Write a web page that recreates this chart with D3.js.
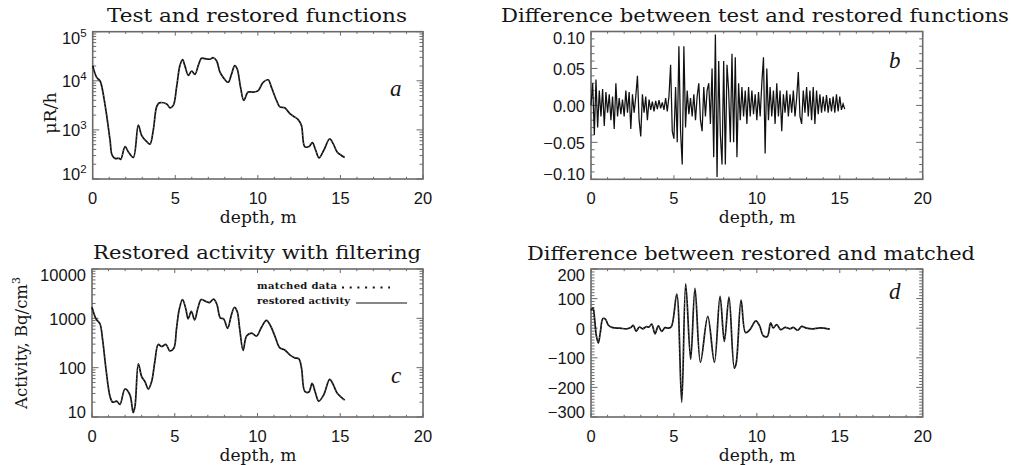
<!DOCTYPE html>
<html>
<head>
<meta charset="utf-8">
<script src="https://cdn.jsdelivr.net/npm/d3@7"></script>
<style>
  body { margin: 0; background: #fff; }
  svg text { fill: #151515; }
</style>
</head>
<body>
<svg id="chart" width="1011" height="465"></svg>
<script>
// depth axis, shared by all four panels
var depthTicks = [0, 5, 10, 15, 20];

// panel a: test and restored functions, uR/h
var depthA = [0,0.24,0.44,0.54,0.8,1.05,1.17,1.35,1.6,1.7,1.96,2.16,2.46,2.76,2.96,3.27,3.47,3.67,3.87,4.03,
  4.48,4.68,4.88,5.08,5.28,5.44,5.58,5.79,5.99,6.19,6.39,6.59,6.79,7.1,7.3,7.5,7.7,7.9,8.2,8.4,
  8.6,8.75,8.95,9.15,9.41,9.72,10.02,10.32,10.62,10.83,11.13,11.33,11.63,11.94,12.24,12.44,12.64,12.84,13.1,13.3,
  13.5,13.7,14.0,14.35,14.56,14.8,15.06,15.26];
var doseA = [20400,11750,10000,7940,2510,617,309,263,263,251,457,355,275,1259,776,575,513,1000,2951,3548,
  3388,2818,3162,7413,20400,26900,20400,12900,15850,13490,20400,28840,28180,27540,29510,25700,15140,11750,9330,13490,
  20400,17380,7413,3981,5888,5888,6310,9330,10470,7244,3981,2951,2818,2138,1820,1622,1230,457,457,550,
  389,269,389,661,525,355,302,275];
var ticksA = [100, 1000, 10000, 100000];
var expA = ["2", "3", "4", "5"];

// panel b: difference between test and restored, sampled every 0.1 m
var stepB = 0.1;
var diffB = [
  0.00, 0.03, -0.04, 0.035, -0.03, 0.02, -0.015, 0.022, -0.028, 0.018,
  -0.01, 0.015, -0.02, 0.012, -0.032, 0.03, -0.015, 0.01, -0.012, 0.008,
  -0.015, 0.02, -0.01, 0.018, -0.032, 0.015, -0.01, 0.012, 0.04, -0.02,
  -0.042, 0.015, -0.01, 0.012, -0.02, 0.008, -0.006, 0.005, -0.008, 0.006,
  -0.005, 0.007, -0.004, 0.004, -0.006, 0.01, -0.008, 0.012, 0.055, -0.035,
  -0.045, 0.025, -0.05, 0.08, -0.035, -0.08, 0.08, -0.03, 0.02, -0.012,
  0.01, -0.015, 0.015, -0.02, 0.012, 0.03, -0.02, -0.035, 0.025, -0.015,
  0.02, 0.03, -0.025, 0.05, -0.07, 0.096, -0.097, 0.06, -0.04, -0.08,
  0.06, -0.08, 0.055, 0.02, -0.05, 0.07, -0.05, 0.065, -0.07, 0.03,
  -0.02, 0.025, -0.015, 0.02, -0.025, 0.025, -0.015, 0.02, -0.012, 0.015,
  -0.02, 0.018, -0.015, 0.03, 0.065, -0.065, 0.05, -0.02, 0.025, -0.015,
  0.02, -0.025, 0.03, -0.015, 0.02, -0.035, 0.015, -0.01, 0.02, -0.015,
  0.015, -0.01, 0.02, -0.015, 0.01, 0.045, -0.015, -0.025, 0.02, -0.01,
  0.025, -0.015, 0.02, -0.02, 0.025, -0.025, 0.02, -0.012, 0.015, -0.01,
  0.012, -0.008, 0.014, -0.01, 0.01, -0.008, 0.012, -0.01, 0.015, -0.008,
  0.012, -0.006, 0.002, -0.005];
var ticksB = [-0.10, -0.05, 0.00, 0.05, 0.10];

// panel c: restored activity, Bq/cm3
var depthC = [0,0.24,0.48,0.64,0.85,1.09,1.25,1.49,1.69,1.99,2.29,2.49,2.6,2.8,3.0,3.2,3.4,3.6,3.8,4.0,
  4.2,4.47,4.7,4.95,5.1,5.27,5.47,5.67,5.81,6.0,6.2,6.4,6.6,6.9,7.1,7.35,7.55,7.75,7.95,8.2,
  8.4,8.6,8.77,8.93,9.13,9.34,9.64,9.94,10.24,10.54,10.8,11.05,11.35,11.65,11.95,12.25,12.5,12.66,12.86,13.1,
  13.3,13.5,13.7,14.0,14.36,14.57,14.8,15.07,15.27];
var activityC = [1700,980,776,372,91,26,20,21,18,37,28,12.3,16.6,120,66,52,37,52,135,295,
  269,295,219,251,589,1514,2399,1549,977,1380,933,1622,2399,2188,2089,2455,1905,1023,977,631,
  1096,1660,1380,589,224,437,501,437,661,912,692,437,251,229,182,158,151,98,33,32,
  48,31,21,28,58,46,31,25,22];
var ticksC = [10, 100, 1000, 10000];

// panel d: difference between restored and matched
var depthD = [0,0.12,0.22,0.32,0.44,0.56,0.72,0.88,1.05,1.3,1.75,2.15,2.4,2.55,2.72,2.92,3.12,3.32,3.5,3.66,
  3.86,4.06,4.26,4.46,4.66,4.85,5.17,5.47,5.71,6.01,6.27,6.6,7.04,7.44,7.78,8.04,8.32,8.64,8.75,9.05,
  9.32,9.58,9.94,10.18,10.38,10.63,10.83,10.99,11.2,11.44,11.7,12.0,12.2,12.46,12.7,13.0,13.4,13.8,14.4];
var diffD = [60,68,30,-25,-50,-15,33,30,10,2,0,-2,2,10,-10,4,-2,5,4,14,
  -19,8,-11,2,0,6,115,-250,150,-105,135,-115,40,-115,108,-45,105,-135,-120,95,
  -15,-5,25,6,-25,-28,18,1,12,-5,3,-2,3,-7,6,0,-2,1,-3];
var ticksD = [-300, -200, -100, 0, 100, 200];

var svg = d3.select("#chart");
var frameColor = "#6a6a6a";
var serif = "'DejaVu Serif', serif";
var sans = "'Liberation Sans', Arial, sans-serif";

function zip(xs, ys) {
	return xs.map(function(d, i){ return [d, ys[i]]; });
}

// IDL style box with inward ticks on all four sides
function drawPanel(p) {
	var g = svg.append("g");
	var x = d3.scaleLinear().domain([0, 20]).range([p.left, p.right]);
	var y = p.y;

	var minorX = d3.range(0, 21, 1);
	minorX.forEach(function(v){
		var len = depthTicks.indexOf(v) >= 0 ? 4 : 2.2;
		g.append("line").attr("x1", x(v)).attr("x2", x(v))
			.attr("y1", p.bottom).attr("y2", p.bottom - len);
		g.append("line").attr("x1", x(v)).attr("x2", x(v))
			.attr("y1", p.top).attr("y2", p.top + len);
	});
	p.minorY.forEach(function(v){
		var len = p.majorY.indexOf(v) >= 0 ? 6.5 : 3.5;
		g.append("line").attr("x1", p.left).attr("x2", p.left + len)
			.attr("y1", y(v)).attr("y2", y(v));
		g.append("line").attr("x1", p.right).attr("x2", p.right - len)
			.attr("y1", y(v)).attr("y2", y(v));
	});
	g.selectAll("line").attr("stroke", frameColor).attr("stroke-width", 1);

	g.append("rect")
		.attr("x", p.left).attr("y", p.top)
		.attr("width", p.right - p.left).attr("height", p.bottom - p.top)
		.attr("fill", "none").attr("stroke", frameColor).attr("stroke-width", 1.6);

	// x labels
	g.selectAll(".xl").data(depthTicks).enter().append("text")
		.attr("x", function(d){ return x(d); })
		.attr("y", p.bottom + 24.5)
		.attr("text-anchor", "middle")
		.attr("font-family", sans).attr("font-size", 16.5)
		.text(function(d){ return d; });

	// y labels
	p.majorY.forEach(function(v, i){
		var yy = Math.max(p.top + 12, Math.min(p.bottom + 1, y(v) + 6.5));
		var t = g.append("text")
			.attr("x", p.left - 6).attr("y", yy)
			.attr("text-anchor", "end")
			.attr("font-family", sans).attr("font-size", 16.5);
		if (p.exp) {
			t.append("tspan").text("10");
			t.append("tspan").attr("font-size", 11.5).attr("dy", -7).text(p.exp[i]);
		} else {
			t.text(p.fmt(v).replace("-", "\u2212"));
		}
	});

	// titles
	svg.append("text")
		.attr("x", p.titleX).attr("y", p.titleY)
		.attr("font-family", serif).attr("font-size", 18)
		.attr("textLength", p.titleW).attr("lengthAdjust", "spacingAndGlyphs")
		.text(p.title);
	svg.append("text")
		.attr("x", (p.left + p.right) / 2 - 38).attr("y", p.bottom + 44)
		.attr("font-family", serif).attr("font-size", 16)
		.attr("textLength", 77).attr("lengthAdjust", "spacingAndGlyphs")
		.text("depth, m");
	svg.append("text")
		.attr("x", p.letterX).attr("y", p.letterY)
		.attr("font-family", "'Liberation Serif', serif").attr("font-style", "italic")
		.attr("font-size", 23)
		.text(p.letter);

	return x;
}

function logMinor(lo, hi) {
	return d3.scaleLog().domain([lo, hi]).ticks();
}

// ---- panel a ----
var yA = d3.scaleLog().domain([100, 100000]).range([179, 31.7]);
var xA = drawPanel({
	left: 92.7, right: 423, top: 31.7, bottom: 179, y: yA,
	majorY: ticksA, minorY: logMinor(100, 100000), exp: expA,
	title: "Test and restored functions", titleX: 107, titleY: 22, titleW: 300,
	letter: "a", letterX: 390, letterY: 96
});
var lineA = d3.line().curve(d3.curveCatmullRom.alpha(0.5))
	.x(function(d){ return xA(d[0]); }).y(function(d){ return yA(d[1]); });
svg.append("path").datum(zip(depthA, doseA)).attr("d", lineA)
	.attr("fill", "none").attr("stroke", "#111").attr("stroke-width", 1.7);
svg.append("path").datum(zip(depthA, doseA)).attr("d", lineA)
	.attr("fill", "none").attr("stroke", "#9a9a9a").attr("stroke-width", 0.7)
	.attr("stroke-dasharray", "0.8,3.2");
svg.append("text")
	.attr("transform", "translate(56,113) rotate(-90)")
	.attr("text-anchor", "middle")
	.attr("font-family", serif).attr("font-size", 17.5)
	.text("\u03bcR/h");

// ---- panel b ----
var yB = d3.scaleLinear().domain([-0.1, 0.1]).range([179.3, 31.5]);
var minorB = d3.range(-10, 11).map(function(v){ return v / 100; });
var xB = drawPanel({
	left: 591, right: 922.7, top: 31.5, bottom: 179.3, y: yB,
	majorY: ticksB, minorY: minorB, fmt: d3.format(".2f"),
	title: "Difference between test and restored functions", titleX: 501, titleY: 22, titleW: 508,
	letter: "b", letterX: 889, letterY: 68
});
svg.append("path")
	.datum(diffB.map(function(v, i){ return [i * stepB, v]; }))
	.attr("d", d3.line().x(function(d){ return xB(d[0]); }).y(function(d){ return yB(d[1]); }))
	.attr("fill", "none").attr("stroke", "#111").attr("stroke-width", 1.25);

// ---- panel c ----
var yC = d3.scaleLog().domain([10, 10000]).range([417, 269]);
var xC = drawPanel({
	left: 92, right: 423, top: 269, bottom: 417, y: yC,
	majorY: ticksC, minorY: logMinor(10, 10000), fmt: d3.format("d"),
	title: "Restored activity with filtering", titleX: 93, titleY: 259, titleW: 328,
	letter: "c", letterX: 391, letterY: 383
});
var lineC = d3.line().curve(d3.curveCatmullRom.alpha(0.5))
	.x(function(d){ return xC(d[0]); }).y(function(d){ return yC(d[1]); });
svg.append("path").datum(zip(depthC, activityC)).attr("d", lineC)
	.attr("fill", "none").attr("stroke", "#111").attr("stroke-width", 1.7);
svg.append("path").datum(zip(depthC, activityC)).attr("d", lineC)
	.attr("fill", "none").attr("stroke", "#9a9a9a").attr("stroke-width", 0.7)
	.attr("stroke-dasharray", "0.8,3.2");
var yt = svg.append("text")
	.attr("transform", "translate(27,343) rotate(-90)")
	.attr("text-anchor", "middle")
	.attr("font-family", serif).attr("font-size", 16.5);
yt.append("tspan").text("Activity, Bq/cm");
yt.append("tspan").attr("font-size", 11).attr("dy", -7).text("3");

// legend
var leg = svg.append("g").attr("font-family", serif).attr("font-size", 10).attr("font-weight", "bold");
leg.append("text").attr("x", 257).attr("y", 289).attr("textLength", 80).text("matched data");
leg.append("text").attr("x", 257).attr("y", 304).attr("textLength", 93).text("restored activity");
leg.append("line").attr("x1", 342).attr("x2", 390).attr("y1", 287.5).attr("y2", 287.5)
	.attr("stroke", "#111").attr("stroke-width", 2.2).attr("stroke-dasharray", "2,5.7");
leg.append("line").attr("x1", 356).attr("x2", 407).attr("y1", 303).attr("y2", 303)
	.attr("stroke", "#111").attr("stroke-width", 1.2);

// ---- panel d ----
var yD = d3.scaleLinear().domain([-300, 200]).range([417, 269]);
var minorD = d3.range(-300, 201, 10);
var xD = drawPanel({
	left: 591, right: 922.7, top: 269, bottom: 417, y: yD,
	majorY: ticksD, minorY: minorD, fmt: d3.format("d"),
	title: "Difference between restored and matched", titleX: 527, titleY: 260, titleW: 448,
	letter: "d", letterX: 889, letterY: 299
});
var lineD = d3.line().curve(d3.curveCatmullRom.alpha(0.5))
	.x(function(d){ return xD(d[0]); }).y(function(d){ return yD(d[1]); });
svg.append("path").datum(zip(depthD, diffD)).attr("d", lineD)
	.attr("fill", "none").attr("stroke", "#111").attr("stroke-width", 1.7);
svg.append("path").datum(zip(depthD, diffD)).attr("d", lineD)
	.attr("fill", "none").attr("stroke", "#9a9a9a").attr("stroke-width", 0.7)
	.attr("stroke-dasharray", "0.8,3.2");
</script>
</body>
</html>
